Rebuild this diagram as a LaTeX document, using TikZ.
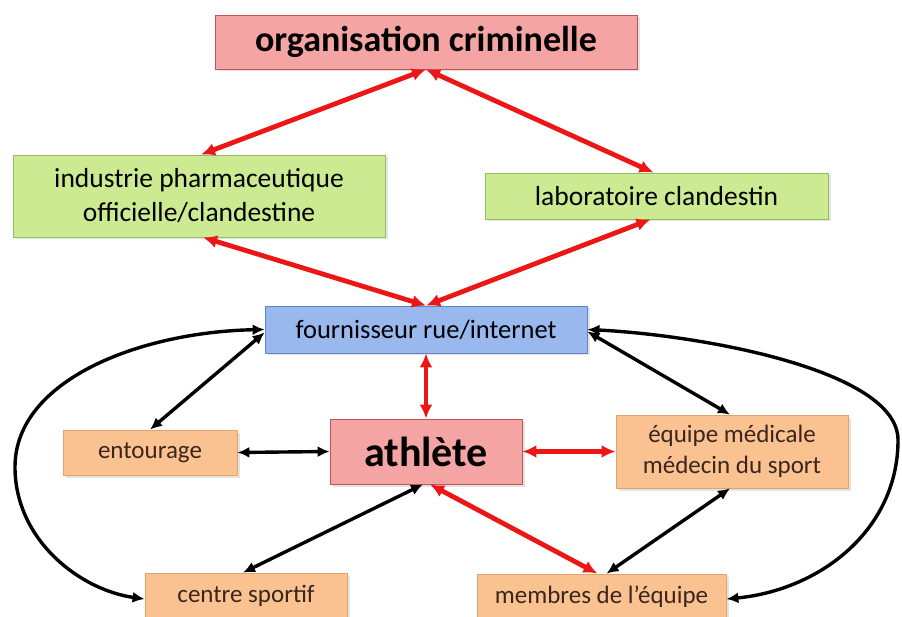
\documentclass[tikz,border=0pt]{standalone}
\usepackage{fontspec}
\setmainfont{Carlito}
\usetikzlibrary{arrows.meta,shadows}

\definecolor{pinkfill}{RGB}{244,164,162}
\definecolor{pinkline}{RGB}{192,84,84}
\definecolor{greenfill}{RGB}{204,234,146}
\definecolor{greenline}{RGB}{150,190,96}
\definecolor{bluefill}{RGB}{152,184,238}
\definecolor{blueline}{RGB}{96,132,204}
\definecolor{orangefill}{RGB}{250,193,145}
\definecolor{orangeline}{RGB}{226,162,108}
\definecolor{linkred}{RGB}{236,22,22}
\definecolor{browntext}{RGB}{58,38,28}

\tikzset{
  box/.style={draw, line width=0.8pt, inner sep=0pt, align=center,
    drop shadow={opacity=0.22, shadow xshift=2.5pt, shadow yshift=-2.5pt}},
  keybox/.style={box, draw=pinkline, fill=pinkfill, font=\bfseries},
  sourcebox/.style={box, draw=greenline, fill=greenfill,
    font=\fontsize{27.5}{34}\selectfont},
  dealerbox/.style={box, draw=blueline, fill=bluefill,
    font=\fontsize{26.5}{32}\selectfont},
  circlebox/.style={box, draw=orangeline, fill=orangefill, text=browntext,
    font=\fontsize{25}{31}\selectfont},
  redlink/.style={draw=linkred, line width=4.8pt,
    arrows={Latex[length=14pt,width=13pt]-Latex[length=14pt,width=13pt]}},
  blacklink/.style={draw=black, line width=3.4pt,
    arrows={Latex[length=12pt,width=11pt]-Latex[length=12pt,width=11pt]}}
}

\begin{document}
\begin{tikzpicture}[x=1pt,y=-1pt]
  \useasboundingbox (0,0) rectangle (902,617);

  % network levels, top to bottom
  \node[keybox, minimum width=422pt, minimum height=54pt,
        font=\bfseries\fontsize{36}{40}\selectfont]
        (org) at (426,42) {organisation criminelle};
  \node[sourcebox, minimum width=372pt, minimum height=82pt]
        (ind) at (199,196) {industrie pharmaceutique\\officielle/clandestine};
  \node[sourcebox, minimum width=343pt, minimum height=46pt]
        (lab) at (656.5,196) {laboratoire clandestin};
  \node[dealerbox, minimum width=322pt, minimum height=47pt]
        (fou) at (426,329.5) {fournisseur rue/internet};
  \node[keybox, minimum width=192pt, minimum height=65pt,
        font=\bfseries\fontsize{42}{46}\selectfont]
        (ath) at (426,451.5) {athlète};

  % people around the athlete
  \node[circlebox, minimum width=174pt, minimum height=45pt]
        (ent) at (150,452.5) {entourage};
  \node[circlebox, minimum width=232pt, minimum height=73pt]
        (equ) at (732,451.5) {équipe médicale\\médecin du sport};
  \node[circlebox, minimum width=202pt, minimum height=46pt]
        (cen) at (246,596) {centre sportif};
  \node[circlebox, minimum width=249pt, minimum height=46pt]
        (mem) at (601.5,597) {membres de l'équipe};

  % supply chain
  \draw[redlink] (org.south) -- ([xshift=2pt]ind.north);
  \draw[redlink] (org.south) -- ([xshift=-3pt]lab.north);
  \draw[redlink] ([xshift=4pt]ind.south) -- (fou.north);
  \draw[redlink] ([xshift=-6pt]lab.south) -- (fou.north);
  \draw[redlink] (fou.south) -- (ath.north);
  \draw[redlink] (ath.east) -- (ath.east -| equ.west);
  \draw[redlink] ([xshift=4pt]ath.south) -- ([xshift=-4pt]mem.north);

  % links to the athlete's circle
  \draw[blacklink] ([yshift=-3pt]fou.west) -- (ent.north);
  \draw[blacklink] (ent.east) -- (ath.west);
  \draw[blacklink] ([yshift=-2pt]fou.east) -- ([xshift=-2pt]equ.north);
  \draw[blacklink] ([xshift=-3pt]ath.south) -- ([xshift=-3pt]cen.north);
  \draw[blacklink] ([xshift=-2pt]equ.south) -- ([xshift=5pt]mem.north);

  % long arcs round both sides
  \draw[blacklink] (fou.west) .. controls (140,332) and (15,380) .. (15,467)
        .. controls (15,540) and (80,590) .. ([yshift=-3pt]cen.west);
  \draw[blacklink] (fou.east) .. controls (700,335) and (898,370) .. (898,440)
        .. controls (898,530) and (820,590) .. ([yshift=-2pt]mem.east);
\end{tikzpicture}
\end{document}
